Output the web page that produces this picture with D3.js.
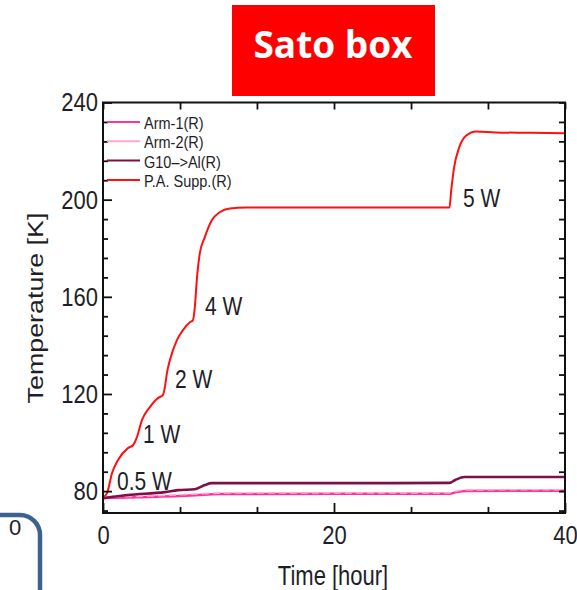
<!DOCTYPE html>
<html>
<head>
<meta charset="utf-8">
<script src="https://cdn.jsdelivr.net/npm/d3@7"></script>
<style>
  body { margin: 0; background: #fff; }
  svg { display: block; }
  text { font-family: "Liberation Sans", Arial, sans-serif; fill: #1e1e28; }
</style>
</head>
<body>
<div id="chart"></div>
<script>
// P.A. support (red)
var paTime = [0, 0.35, 0.78, 1.3, 2.16, 2.6, 2.94, 3.37, 4.06, 4.75, 5.18, 5.36, 5.53, 5.79,
  6.39, 6.91, 7.52, 7.78, 7.95, 8.12, 8.38, 8.81, 9.42, 10.1, 10.97, 12.4, 15.3, 20, 25,
  30.0, 30.15, 30.4, 30.84, 31.45, 32.3, 34.0, 37, 40];
var paTemp = [77.5, 79.2, 87.4, 92.8, 97.7, 98.9, 102.2, 109.2, 114.6, 118.3, 119.5, 122.8, 128.5, 133.9,
  142.1, 146.2, 149.5, 150.3, 155.7, 166.8, 177.9, 184.5, 191.5, 194.8, 196.4, 196.8, 196.8, 196.8, 196.8,
  196.8, 203.8, 213.3, 221.5, 226.4, 228.1, 227.7, 227.5, 227.3];

// G10 -> Al (maroon)
var g10Time = [0, 2.16, 5.36, 6.48, 7.95, 8.81, 9.4, 15, 20, 25, 30, 30.5, 31.3, 35, 40];
var g10Temp = [77.1, 78.4, 79.6, 80.4, 80.8, 82.5, 83.3, 83.3, 83.3, 83.3, 83.4, 84.6, 85.8, 85.8, 85.8];

// Arm-1 / Arm-2 (pinks)
var armTime = [0, 4, 8, 10, 20, 30, 30.6, 31.5, 40];
var arm1Temp = [77.2, 77.6, 78.3, 78.8, 78.9, 78.9, 79.6, 80.1, 80.2];
var arm2Temp = [77.6, 78.0, 78.8, 79.2, 79.3, 79.3, 80.0, 80.5, 80.6];

var legendNames = ["Arm-1(R)", "Arm-2(R)", "G10\u2013>Al(R)", "P.A. Supp.(R)"];

var noteText = ["0.5 W", "1 W", "2 W", "4 W", "5 W"];
var noteTime = [1.21, 3.46, 6.23, 8.83, 31.17];
var noteTemp = [80.4, 99.8, 122.4, 152.5, 197];

var xMajorTicks = [0, 20, 40];
var xMinorTicks = [6.67, 13.33, 26.67, 33.33];
var yMajorTicks = [80, 120, 160, 200, 240];

(function() {
  var width = 577, height = 590;
  var left = 103, right = 565, top = 102.5, bottom = 513;

  var svg = d3.select("#chart").append("svg")
    .attr("width", width)
    .attr("height", height);

  var x = d3.scaleLinear().domain([0, 40]).range([left, right]);
  var y = d3.scaleLinear().domain([71, 240]).range([bottom, top]);

  var yMinorTicks = d3.range(72, 240, 8).filter(function(v) {
    return yMajorTicks.indexOf(v) < 0;
  });

  // title box
  svg.append("rect")
    .attr("x", 232).attr("y", 5)
    .attr("width", 203).attr("height", 91)
    .attr("fill", "#ff0000");
  svg.append("text")
    .attr("x", 333).attr("y", 58)
    .attr("text-anchor", "middle")
    .style("font-family", "'Open Sans', sans-serif")
    .style("font-weight", 700)
    .style("font-size", "37px")
    .style("fill", "#fff")
    .text("Sato box");

  // series
  var line = d3.line()
    .x(function(d) { return x(d[0]); })
    .y(function(d) { return y(d[1]); })
    .curve(d3.curveMonotoneX);

  var zip = function(a, b) {
    return a.map(function(v, i) { return [v, b[i]]; });
  };

  var series = [
    { pts: zip(armTime, arm1Temp), color: "#ff3399", w: 2.5 },
    { pts: zip(armTime, arm2Temp), color: "#ffa6d2", w: 1.6, dash: "7,4" },
    { pts: zip(g10Time, g10Temp), color: "#7d1048", w: 2.6 },
    { pts: zip(paTime, paTemp), color: "#ff1010", w: 2 }
  ];

  var plot = svg.append("g");
  series.forEach(function(s) {
    plot.append("path")
      .attr("d", line(s.pts))
      .attr("fill", "none")
      .attr("stroke", s.color)
      .attr("stroke-width", s.w)
      .attr("stroke-dasharray", s.dash || null);
  });

  // axes: ticks point inside
  var noLabel = function() { return ""; };
  var styleAxis = function(g) {
    g.select(".domain").remove();
    g.selectAll("line").attr("stroke", "#111").attr("stroke-width", 1.8);
  };

  svg.append("g").attr("transform", "translate(0," + bottom + ")")
    .call(d3.axisBottom(x).tickValues(xMajorTicks).tickSize(-10).tickPadding(10)
      .tickFormat(d3.format("d")))
    .call(styleAxis)
    .selectAll("text")
    .style("font-size", "22px")
    .attr("fill", "#1e1e28")
    .attr("transform", "scale(1,1.2)");
  svg.append("g").attr("transform", "translate(0," + bottom + ")")
    .call(d3.axisBottom(x).tickValues(xMinorTicks).tickSize(-6).tickFormat(noLabel))
    .call(styleAxis);
  svg.append("g").attr("transform", "translate(0," + top + ")")
    .call(d3.axisTop(x).tickValues(xMajorTicks.concat(xMinorTicks)).tickSize(-7).tickFormat(noLabel))
    .call(styleAxis);

  svg.append("g").attr("transform", "translate(" + left + ",0)")
    .call(d3.axisLeft(y).tickValues(yMajorTicks).tickSize(-9).tickPadding(5))
    .call(styleAxis)
    .selectAll("text")
    .style("font-size", "22px")
    .attr("fill", "#1e1e28")
    .attr("transform", "scale(1,1.2)");
  svg.append("g").attr("transform", "translate(" + left + ",0)")
    .call(d3.axisLeft(y).tickValues(yMinorTicks).tickSize(-5).tickFormat(noLabel))
    .call(styleAxis);
  svg.append("g").attr("transform", "translate(" + right + ",0)")
    .call(d3.axisRight(y).tickValues(yMajorTicks.concat(yMinorTicks)).tickSize(-6).tickFormat(noLabel))
    .call(styleAxis);

  svg.append("rect")
    .attr("x", left).attr("y", top)
    .attr("width", right - left).attr("height", bottom - top)
    .attr("fill", "none")
    .attr("stroke", "#111")
    .attr("stroke-width", 2);

  // axis titles
  svg.append("g").attr("transform", "translate(333,585)")
    .append("text")
    .attr("text-anchor", "middle")
    .attr("transform", "scale(1,1.22)")
    .style("font-size", "22px")
    .text("Time [hour]");
  svg.append("g").attr("transform", "translate(43,308) rotate(-90)")
    .append("text")
    .attr("text-anchor", "middle")
    .attr("transform", "scale(1.22,1)")
    .style("font-size", "22px")
    .text("Temperature [K]");

  // legend
  var legendColors = ["#ff3399", "#ffa6d2", "#7d1048", "#ff1010"];
  var legend = svg.append("g");
  legendNames.forEach(function(name, i) {
    var ly = 122 + i * 19.3;
    legend.append("line")
      .attr("x1", 107).attr("x2", 140)
      .attr("y1", ly).attr("y2", ly)
      .attr("stroke", legendColors[i])
      .attr("stroke-width", 2);
    legend.append("g").attr("transform", "translate(144," + (ly + 7) + ")")
      .append("text")
      .attr("transform", "scale(1,1.15)")
      .style("font-size", "14.5px")
      .text(name);
  });

  // power annotations
  noteText.forEach(function(t, i) {
    svg.append("g")
      .attr("transform", "translate(" + x(noteTime[i]) + "," + y(noteTemp[i]) + ")")
      .append("text")
      .attr("transform", "scale(1,1.2)")
      .style("font-size", "21px")
      .text(t);
  });

  // cropped neighbour panel, bottom-left
  svg.append("text")
    .attr("x", 15).attr("y", 535)
    .attr("text-anchor", "middle")
    .style("font-size", "22px")
    .text("0");
  svg.append("rect")
    .attr("x", 0).attr("y", 495)
    .attr("width", 32).attr("height", 22)
    .attr("fill", "#fff");
  svg.append("path")
    .attr("d", "M0,515 H20 A20,20 0 0 1 40,535 V590")
    .attr("fill", "none")
    .attr("stroke", "#3d6190")
    .attr("stroke-width", 4.5);
})();
</script>
</body>
</html>
